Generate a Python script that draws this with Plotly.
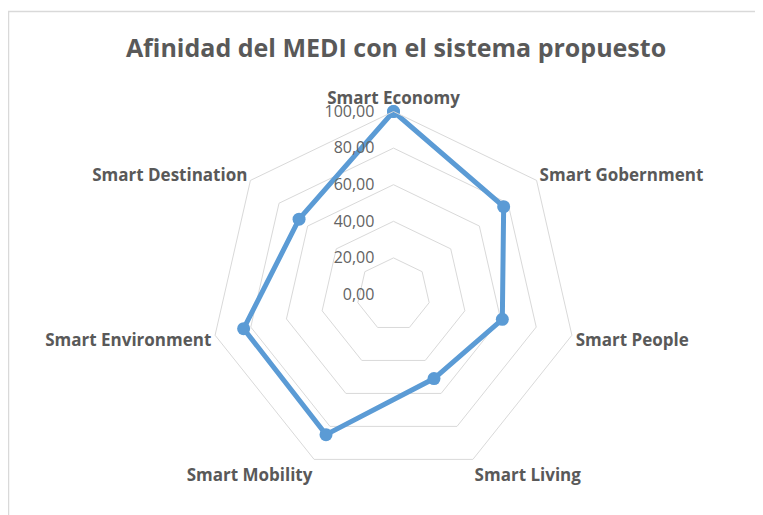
import plotly.graph_objects as go

categories = ["Smart Economy", "Smart Gobernment", "Smart People", "Smart Living",
              "Smart Mobility", "Smart Environment", "Smart Destination"]
values = [100, 77, 61, 51, 85, 84, 66]
tick_vals = [0, 20, 40, 60, 80, 100]

# page has an 8px body margin, so the figure is drawn 8px in from the window edge
OFF = 8
W, H = 763 - OFF, 515 - OFF
cx, cy, R = 393.5 - OFF, 294.5 - OFF, 183

fig = go.Figure()
fig.add_trace(go.Scatterpolar(
    r=values + values[:1],
    theta=categories + categories[:1],
    mode="lines+markers",
    line=dict(color="#5B9BD5", width=5),
    marker=dict(color="#5B9BD5", size=13),
    showlegend=False,
))

fig.update_layout(
    width=W, height=H,
    margin=dict(l=0, r=0, t=0, b=0),
    paper_bgcolor="white",
    separators=",.",
    font=dict(family="Open Sans", color="#595959"),
    title=dict(text="<b>Afinidad del MEDI con el sistema propuesto</b>",
               x=(396 - OFF) / W, xanchor="center", y=1 - (48 - OFF) / H, yanchor="middle",
               font=dict(size=25, color="#595959", family="Open Sans")),
    polar=dict(
        domain=dict(x=[(cx - R) / W, (cx + R) / W], y=[1 - (cy + R) / H, 1 - (cy - R) / H]),
        bgcolor="white",
        gridshape="linear",
        angularaxis=dict(rotation=90, direction="clockwise", showgrid=False,
                         showline=True, linecolor="#d9d9d9", linewidth=1,
                         ticks="", tickfont=dict(size=17, color="#595959", family="Open Sans", weight="bold")),
        radialaxis=dict(range=[0, 100], tickvals=tick_vals, tickformat=".2f",
                        angle=90, side="counterclockwise", showline=False,
                        gridcolor="#d9d9d9", gridwidth=1,
                        ticks="outside", ticklen=13, tickcolor="rgba(0,0,0,0)",
                        tickangle=90,
                        tickfont=dict(size=16, color="#636363")),
    ),
    shapes=[dict(type="rect", xref="paper", yref="paper",
                 x0=0.5 / W, x1=1.05, y0=-0.05, y1=1 - 3.5 / H,
                 line=dict(color="#d9d9d9", width=1.5), fillcolor="rgba(0,0,0,0)")],
)

fig.write_html("out.html")
